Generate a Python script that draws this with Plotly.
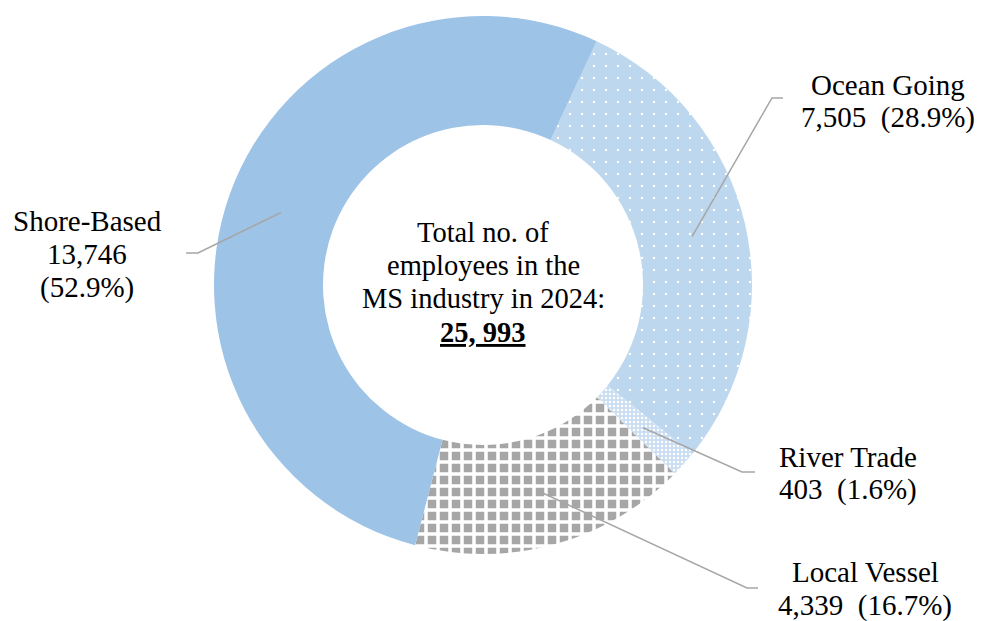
import math
import plotly.graph_objects as go

# ---- data ----
categories = ["Ocean Going", "River Trade", "Local Vessel", "Shore-Based"]
values = [7505, 403, 4339, 13746]
total_label = "25, 993"
center_lines = ["Total no. of", "employees in the", "MS industry in 2024:"]

# ---- layout constants (pixels) ----
W, H = 981, 621
CX, CY, R_OUT, R_IN = 483, 285, 269, 160
ROTATION = 25
FONT = "Liberation Serif, Times New Roman, serif"
FS_SIDE = 29
FS_CENTER = 28.5
LINE_COL = "#A6A6A6"

def px(x):
    return x / W

def py(y):
    return 1 - y / H

colors = ["#BDD7EE", "#BDD7EE", "#FFFFFF", "#9DC3E6"]
patterns = dict(
    shape=[".", ".", "+", ""],
    fgcolor=["#FFFFFF", "#FFFFFF", "#FFFFFF", "#9DC3E6"],
    bgcolor=["#BDD7EE", "#C9DEF2", "#A6A6A6", "#9DC3E6"],
    size=[12, 4, 12, 8],
    solidity=[0.03, 0.3, 0.5, 0.1],
    fillmode="replace",
)

fig = go.Figure()
fig.add_trace(go.Pie(
    labels=categories,
    values=values,
    hole=R_IN / R_OUT,
    sort=False,
    direction="clockwise",
    rotation=ROTATION,
    textinfo="none",
    hoverinfo="label+value+percent",
    marker=dict(colors=colors, line=dict(width=0), pattern=patterns),
    domain=dict(x=[px(CX - R_OUT), px(CX + R_OUT)], y=[py(CY + R_OUT), py(CY - R_OUT)]),
    showlegend=False,
))

tot = sum(values)
pcts = [v / tot * 100 for v in values]

# label text lines per category
label_lines = {
    "Ocean Going": ["Ocean Going", f"{values[0]:,}\u00a0\u00a0({pcts[0]:.1f}%)"],
    "River Trade": ["River Trade", f"{values[1]:,}\u00a0\u00a0({pcts[1]:.1f}%)"],
    "Local Vessel": ["Local Vessel", f"{values[2]:,}\u00a0\u00a0({pcts[2]:.1f}%)"],
    "Shore-Based": ["Shore-Based", f"{values[3]:,}", f"({pcts[3]:.1f}%)"],
}
# label positions (x centre, first-line y centre) and leader elbow/end points
label_pos = {
    "Ocean Going": (888, 85, (772, 98), (783, 98)),
    "River Trade": (848, 457, (742, 472), (755, 472)),
    "Local Vessel": (865, 572, (747, 588), (758, 588)),
    "Shore-Based": (87, 221, (198, 253), (186, 253)),
}
LINE_GAP = 33.0

annotations = []
shapes = []
cum = 0
r_mid = (R_OUT + R_IN) / 2
for cat, v in zip(categories, values):
    mid = math.radians(ROTATION + (cum + v / 2) / tot * 360)
    cum += v
    sx = CX + r_mid * math.sin(mid)
    sy = CY - r_mid * math.cos(mid)
    lx, ly, elbow, end = label_pos[cat]
    shapes.append(dict(
        type="path", xref="paper", yref="paper",
        path=f"M {px(sx)},{py(sy)} L {px(elbow[0])},{py(elbow[1])} L {px(end[0])},{py(end[1])}",
        line=dict(color=LINE_COL, width=1.5),
    ))
    for i, t in enumerate(label_lines[cat]):
        annotations.append(dict(
            text=t, x=px(lx), y=py(ly + i * LINE_GAP), xref="paper", yref="paper",
            xanchor="center", yanchor="middle", showarrow=False,
            font=dict(family=FONT, size=FS_SIDE, color="#000000"),
        ))

center_all = center_lines + [f"<b><u>{total_label}</u></b>"]
for i, t in enumerate(center_all):
    annotations.append(dict(
        text=t, x=px(CX), y=py(232 + i * 33.4), xref="paper", yref="paper",
        xanchor="center", yanchor="middle", showarrow=False,
        font=dict(family=FONT, size=FS_CENTER, color="#000000"),
    ))

fig.update_layout(
    width=W, height=H,
    margin=dict(l=0, r=0, t=0, b=0),
    paper_bgcolor="white",
    plot_bgcolor="white",
    annotations=annotations,
    shapes=shapes,
)

fig.write_html(
    "out.html",
    config={"displayModeBar": False},
    post_script="document.body.style.margin='0';document.body.style.overflow='hidden';",
)
